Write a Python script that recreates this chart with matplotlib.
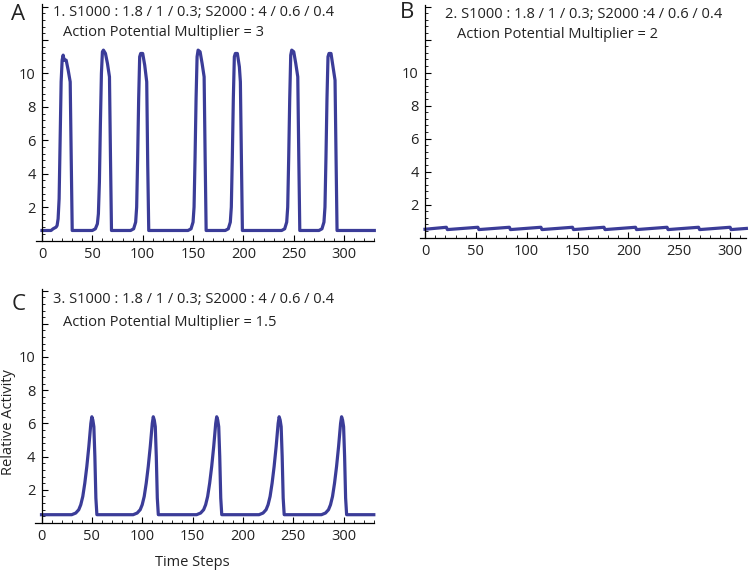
import matplotlib
matplotlib.use("Agg")
import matplotlib.pyplot as plt
from matplotlib.ticker import MultipleLocator, FixedLocator

plt.rcParams['font.family'] = ['Open Sans', 'DejaVu Sans']

W, H = 749, 574
LINE_COLOR = '#3b3c98'

# Panel A: action potential multiplier = 3 (time step, relative activity)
a_t = [0, 9, 11, 14, 15, 16, 17, 18, 19, 20, 21, 22, 24, 26, 28, 29, 30,
       50, 53, 55, 56, 57, 58, 59, 60, 61, 63, 65, 67, 68, 69,
       88, 91, 93, 94, 95, 96, 97, 98, 100, 102, 104, 105, 106,
       145, 148, 150, 151, 152, 153, 154, 155, 157, 159, 161, 162, 163,
       182, 185, 187, 188, 189, 190, 191, 192, 194, 196, 197, 198, 199,
       238, 241, 243, 244, 245, 246, 247, 248, 250, 252, 254, 255, 256,
       275, 278, 280, 281, 282, 283, 284, 285, 287, 289, 291, 292, 293, 330]
a_y = [0.6, 0.6, 0.7, 0.8, 0.9, 1.3, 2.5, 6.0, 9.5, 10.8, 11.1, 10.8, 10.8, 10.2, 9.5, 5.0, 0.6,
       0.6, 0.7, 1.0, 1.6, 3.5, 7.0, 10.0, 11.3, 11.4, 11.2, 10.6, 9.8, 5.0, 0.6,
       0.6, 0.7, 1.1, 2.0, 5.0, 8.5, 11.0, 11.2, 11.2, 10.5, 9.5, 4.5, 0.6,
       0.6, 0.7, 1.1, 2.0, 5.0, 8.5, 11.0, 11.4, 11.3, 10.6, 9.8, 5.0, 0.6,
       0.6, 0.7, 1.1, 2.0, 5.0, 8.5, 11.0, 11.2, 11.2, 10.4, 9.5, 5.0, 0.6,
       0.6, 0.7, 1.1, 2.0, 5.0, 8.5, 11.1, 11.4, 11.3, 10.6, 9.8, 5.0, 0.6,
       0.6, 0.7, 1.1, 2.0, 5.0, 8.5, 11.0, 11.2, 11.2, 10.4, 9.6, 5.0, 0.6, 0.6]

# Panel B: multiplier = 2, small sawtooth
b_t = [0, 21, 22, 52, 53, 83, 84, 114, 115, 145, 146, 176, 177,
       207, 208, 238, 239, 269, 270, 300, 301, 316]
b_y = [0.5, 0.62, 0.48, 0.62, 0.48, 0.62, 0.48, 0.62, 0.48, 0.62, 0.48, 0.62, 0.48,
       0.62, 0.48, 0.62, 0.48, 0.62, 0.48, 0.62, 0.48, 0.55]

# Panel C: multiplier = 1.5
c_t = [0,
       30, 34, 37, 39, 41, 43, 45, 47, 48, 49, 50, 51, 52, 53, 54, 55,
       91, 95, 98, 100, 102, 104, 106, 108, 109, 110, 111, 112, 113, 114, 115, 116,
       154, 158, 161, 163, 165, 167, 169, 171, 172, 173, 174, 175, 176, 177, 178, 179,
       216, 220, 223, 225, 227, 229, 231, 233, 234, 235, 236, 237, 238, 239, 240, 241,
       278, 282, 285, 287, 289, 291, 293, 295, 296, 297, 298, 299, 300, 301, 302, 303,
       330]
c_y = [0.5,
       0.5, 0.6, 0.8, 1.1, 1.6, 2.4, 3.4, 4.6, 5.3, 6.0, 6.4, 6.2, 5.8, 4.0, 1.5, 0.5,
       0.5, 0.6, 0.8, 1.1, 1.6, 2.4, 3.4, 4.6, 5.3, 6.0, 6.4, 6.2, 5.8, 4.0, 1.5, 0.5,
       0.5, 0.6, 0.8, 1.1, 1.6, 2.4, 3.4, 4.6, 5.3, 6.0, 6.4, 6.2, 5.8, 4.0, 1.5, 0.5,
       0.5, 0.6, 0.8, 1.1, 1.6, 2.4, 3.4, 4.6, 5.3, 6.0, 6.4, 6.2, 5.8, 4.0, 1.5, 0.5,
       0.5, 0.6, 0.8, 1.1, 1.6, 2.4, 3.4, 4.6, 5.3, 6.0, 6.4, 6.2, 5.8, 4.0, 1.5, 0.5,
       0.5]

y_ticks = [2, 4, 6, 8, 10, 12, 14]
y_labels = ['2', '4', '6', '8', '10', '', '']
x_ticks = [0, 50, 100, 150, 200, 250, 300]

titles = [
    ("1. S1000 : 1.8 / 1 / 0.3; S2000 : 4 / 0.6 / 0.4", "Action Potential Multiplier = 3"),
    ("2. S1000 : 1.8 / 1 / 0.3; S2000 :4 / 0.6 / 0.4", "Action Potential Multiplier = 2"),
    ("3. S1000 : 1.8 / 1 / 0.3; S2000 : 4 / 0.6 / 0.4", "Action Potential Multiplier = 1.5"),
]
letters = ['A', 'B', 'C']

fig = plt.figure(figsize=(W / 100, H / 100), dpi=100)


def make_axes(x0_px, xscale, xlim, y0_px, yscale, ylim):
    # place axes so that data origin lands at the given pixel position
    left = x0_px + xlim[0] * xscale
    right = x0_px + xlim[1] * xscale
    bottom = y0_px - ylim[0] * yscale
    top = y0_px - ylim[1] * yscale
    ax = fig.add_axes([left / W, 1 - bottom / H, (right - left) / W, (bottom - top) / H])
    ax.set_xlim(*xlim)
    ax.set_ylim(*ylim)
    for s in ['top', 'right']:
        ax.spines[s].set_visible(False)
    ax.spines['left'].set_position(('data', 0))
    for s in ['left', 'bottom']:
        ax.spines[s].set_linewidth(0.9)
    ax.xaxis.set_major_locator(FixedLocator(x_ticks))
    ax.xaxis.set_minor_locator(MultipleLocator(10))
    ax.yaxis.set_major_locator(FixedLocator(y_ticks))
    ax.set_yticklabels(y_labels)
    ax.yaxis.set_minor_locator(MultipleLocator(0.4))
    ax.tick_params(which='major', direction='in', length=4.5, width=0.8, labelsize=10.5, pad=4.5,
                   labelcolor='#222222')
    ax.tick_params(which='minor', direction='in', length=2.5, width=0.6)
    ax.patch.set_visible(False)
    return ax


ax_a = make_axes(42, 1.007, (-6, 330), 240.5, 16.7, (0, 14.15))
ax_b = make_axes(425, 1.017, (-5, 316), 237.5, 16.5, (0, 14.1))
ax_c = make_axes(41.5, 1.007, (-6, 330), 523, 16.6, (0, 14.1))

for ax, t, y in [(ax_a, a_t, a_y), (ax_b, b_t, b_y), (ax_c, c_t, c_y)]:
    ax.plot(t, y, color=LINE_COLOR, lw=2.3, solid_joinstyle='round', clip_on=False)

# panel annotations
title_pos = [((53, 13), (63, 33)), ((445, 14), (457, 35)), ((53, 299), (63, 322))]
letter_pos = [(18, 15), (407, 13), (19, 304)]
for (l1, l2), ((x1, y1), (x2, y2)), let, (lx, ly) in zip(titles, title_pos, letters, letter_pos):
    fig.text(x1 / W, 1 - y1 / H, l1, ha='left', va='center', fontsize=10.5, color='#222222')
    fig.text(x2 / W, 1 - y2 / H, l2, ha='left', va='center', fontsize=10.5, color='#222222')
    fig.text(lx / W, 1 - ly / H, let, ha='center', va='center', fontsize=16, color='#222222')

fig.text(9 / W, 1 - 422 / H, "Relative Activity", rotation=90, ha='center', va='center',
         fontsize=10.5, color='#222222')
fig.text(192 / W, 1 - 562 / H, "Time Steps", ha='center', va='center', fontsize=10.5, color='#222222')

fig.savefig("out.png", dpi=100)
